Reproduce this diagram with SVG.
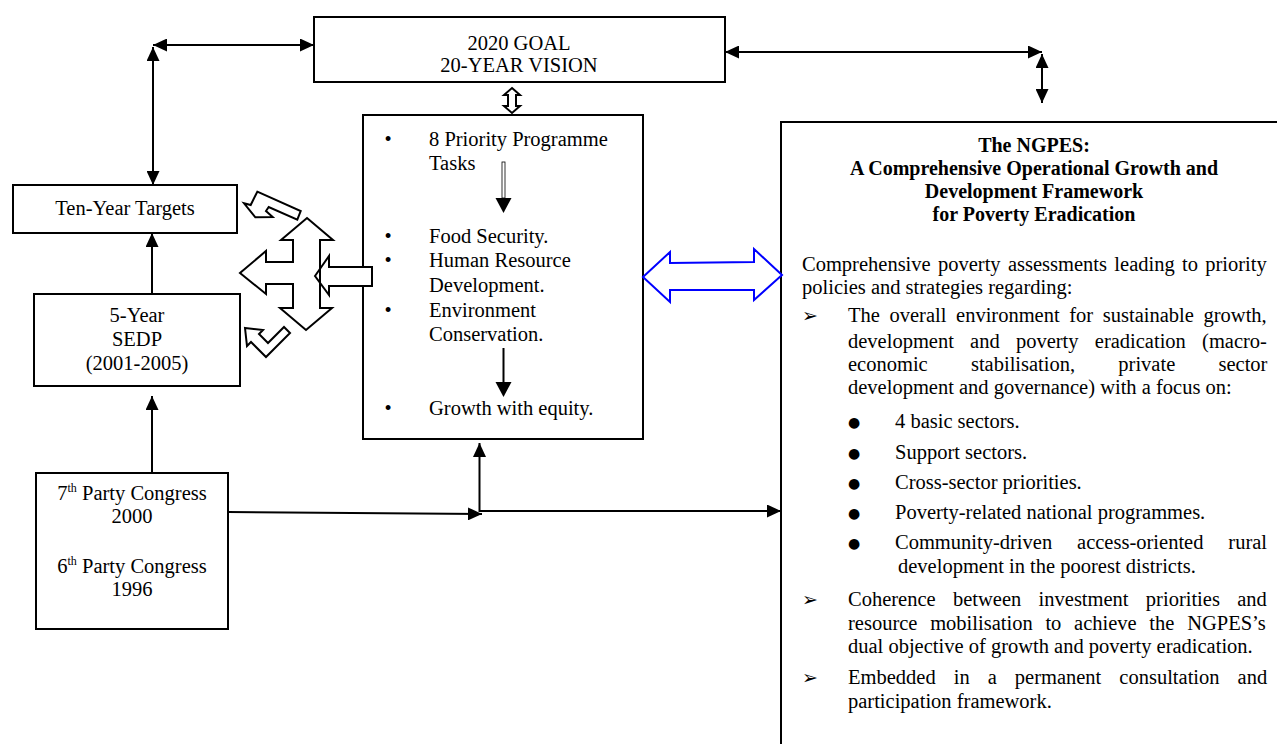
<svg xmlns="http://www.w3.org/2000/svg" width="1277" height="744" viewBox="0 0 1277 744">
<style>
  text { font-family: "Liberation Serif", "Times New Roman", serif; font-size: 20.5px; fill: #000; }
  .c { text-anchor: middle; }
  .b { font-weight: bold; font-size: 20px; }
  .box { fill: #fff; stroke: #000; stroke-width: 2; }
  .ln { fill: none; stroke: #000; stroke-width: 2; }
  .hol { fill: #fff; stroke: #000; stroke-width: 2; stroke-linejoin: miter; }
  .blu { fill: #fff; stroke: #0000ff; stroke-width: 2; }
  .bul { font-family: "DejaVu Sans", sans-serif; font-size: 14px; text-anchor: middle; }
  .arr { font-family: "DejaVu Sans", sans-serif; font-size: 19px; text-anchor: middle; }
</style>
<defs>
  <marker id="ah" markerUnits="userSpaceOnUse" markerWidth="14" markerHeight="13" viewBox="0 0 14 13" refX="14" refY="6.5" orient="auto-start-reverse">
    <path d="M0,0 L14,6.5 L0,13 Z" fill="#000"/>
  </marker>
</defs>

<g id="goal">
  <rect class="box" x="314" y="17" width="411" height="65"/>
  <text class="c" x="519" y="50">2020 GOAL</text>
  <text class="c" x="519" y="72">20-YEAR VISION</text>
</g>

<g id="ten-year">
  <rect class="box" x="13" y="185" width="224" height="48"/>
  <text class="c" x="125" y="215">Ten-Year Targets</text>
</g>

<g id="sedp">
  <rect class="box" x="34" y="294" width="206" height="92"/>
  <text class="c" x="137" y="322">5-Year</text>
  <text class="c" x="137" y="346">SEDP</text>
  <text class="c" x="137" y="370">(2001-2005)</text>
</g>

<g id="congress">
  <rect class="box" x="36" y="473" width="192" height="156"/>
  <text class="c" x="132" y="500">7<tspan font-size="12" dy="-8">th</tspan><tspan dy="8"> Party Congress</tspan></text>
  <text class="c" x="132" y="523">2000</text>
  <text class="c" x="132" y="573">6<tspan font-size="12" dy="-8">th</tspan><tspan dy="8"> Party Congress</tspan></text>
  <text class="c" x="132" y="596">1996</text>
</g>

<g id="priorities">
  <rect class="box" x="363" y="115" width="280" height="324"/>
  <text class="c" x="388" y="146">•</text>
  <text x="429" y="146">8 Priority Programme</text>
  <text x="429" y="170">Tasks</text>
  <rect x="502" y="162" width="3" height="36" fill="#fff" stroke="#000" stroke-width="0.8"/>
  <path d="M495.5,198 L511.5,198 L503.5,213 Z" fill="#000"/>
  <text class="c" x="388" y="243">•</text>
  <text x="429" y="243">Food Security.</text>
  <text class="c" x="388" y="267">•</text>
  <text x="429" y="267">Human Resource</text>
  <text x="429" y="292">Development.</text>
  <text class="c" x="388" y="317">•</text>
  <text x="429" y="317">Environment</text>
  <text x="429" y="341">Conservation.</text>
  <line x1="503.5" y1="348" x2="503.5" y2="383" stroke="#000" stroke-width="2"/>
  <path d="M495.5,382 L511.5,382 L503.5,397 Z" fill="#000"/>
  <text class="c" x="388" y="415">•</text>
  <text x="429" y="415">Growth with equity.</text>
</g>

<g id="ngpes">
  <rect class="box" x="781" y="122" width="560" height="660"/>
  <text class="c b" x="1034" y="152">The NGPES:</text>
  <text class="c b" x="1034" y="175">A Comprehensive Operational Growth and</text>
  <text class="c b" x="1034" y="198">Development Framework</text>
  <text class="c b" x="1034" y="221">for Poverty Eradication</text>
  <text x="802" y="271" word-spacing="2.2">Comprehensive poverty assessments leading to priority</text>
  <text x="802" y="294">policies and strategies regarding:</text>
  <text class="arr" x="810" y="322">➢</text>
  <text x="848" y="322" word-spacing="4.5">The overall environment for sustainable growth,</text>
  <text x="848" y="348" word-spacing="11.1">development and poverty eradication (macro-</text>
  <text x="848" y="371" word-spacing="38.1">economic stabilisation, private sector</text>
  <text x="848" y="394">development and governance) with a focus on:</text>
  <text class="bul" x="854" y="427">●</text>
  <text x="895" y="428">4 basic sectors.</text>
  <text class="bul" x="854" y="458">●</text>
  <text x="895" y="459">Support sectors.</text>
  <text class="bul" x="854" y="488">●</text>
  <text x="895" y="489">Cross-sector priorities.</text>
  <text class="bul" x="854" y="518">●</text>
  <text x="895" y="519">Poverty-related national programmes.</text>
  <text class="bul" x="854" y="548">●</text>
  <text x="895" y="549" word-spacing="19.8">Community-driven access-oriented rural</text>
  <text x="898" y="573">development in the poorest districts.</text>
  <text class="arr" x="810" y="606">➢</text>
  <text x="848" y="606" word-spacing="12.2">Coherence between investment priorities and</text>
  <text x="848" y="630" word-spacing="7.6">resource mobilisation to achieve the NGPES’s</text>
  <text x="848" y="653">dual objective of growth and poverty eradication.</text>
  <text class="arr" x="810" y="684">➢</text>
  <text x="848" y="684" word-spacing="12.9">Embedded in a permanent consultation and</text>
  <text x="848" y="708">participation framework.</text>
</g>

<g id="block-arrows">
  <polygon class="hol" points="315,276 329,256 329,267 372,267 372,286 329,286 329,295"/>
  <polygon class="hol" style="fill:none" points="307,218 333,240 320,240 320,308 332,308 306,330 280,308 293,308 293,284 266,284 266,294 240,273 266,251 266,262 293,262 293,240 281,240"/>
  <polygon class="hol" points="257.3,191.7 300.7,211 297.3,219.7 268.7,207 266,211 272.7,217 255.3,217.3 244,203.3 250.7,205"/>
  <polygon class="hol" points="245,328 263,330 259,334 268,343 284,327 290,333 266,357 251,342 247,346"/>
  <polygon class="hol" stroke-width="1.5" points="512,88 520,95 516,95 516,106 520,106 512,113 504,106 508,106 508,95 504,95"/>
  <polygon class="blu" points="643,277 670,252 670,263 754,262 754,249 782,275 754,300 754,290 670,290 670,302"/>
</g>

<g id="connectors">
  <line class="ln" x1="153" y1="47" x2="153" y2="185" marker-start="url(#ah)" marker-end="url(#ah)"/>
  <line class="ln" x1="153" y1="45" x2="314" y2="45" marker-start="url(#ah)" marker-end="url(#ah)"/>
  <line class="ln" x1="725" y1="52" x2="1042" y2="52" marker-start="url(#ah)" marker-end="url(#ah)"/>
  <line class="ln" x1="1042" y1="54" x2="1042" y2="103" marker-start="url(#ah)" marker-end="url(#ah)"/>
  <line class="ln" x1="152" y1="294" x2="152" y2="233" marker-end="url(#ah)"/>
  <line class="ln" x1="152" y1="473" x2="152" y2="396" marker-end="url(#ah)"/>
  <line class="ln" x1="228" y1="512" x2="482" y2="514" marker-end="url(#ah)"/>
  <line class="ln" x1="479.5" y1="512" x2="479.5" y2="443" marker-end="url(#ah)"/>
  <line class="ln" x1="479" y1="511" x2="781" y2="511" marker-end="url(#ah)"/>
</g>
</svg>
